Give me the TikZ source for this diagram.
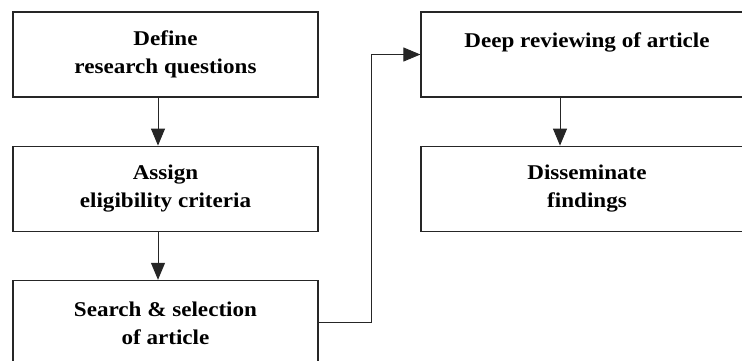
\documentclass[tikz,border=0pt]{standalone}
\usepackage{fontspec}
\setmainfont{Liberation Serif}[FakeStretch=1.1]
\usetikzlibrary{positioning,arrows.meta}

\tikzset{
  stepbox/.style={draw=black!85, line width=1.2pt, minimum height=85pt,
    align=center, inner sep=0pt, font=\fontsize{21}{28}\selectfont\bfseries},
  flow/.style={draw=black!85, line width=1pt, -{Triangle[length=17pt,width=14pt]}}
}

\begin{document}
\begin{tikzpicture}[x=1pt,y=-1pt]
\useasboundingbox (0,0) rectangle (742,360);
\node[stepbox, minimum width=305pt] (define) at (165.5,54.5) {Define\\research questions};
\node[stepbox, minimum width=305pt, below=48pt of define] (assign) {Assign\\eligibility criteria};
\node[stepbox, minimum width=305pt, below=48pt of assign] (search) {Search \& selection\\of article};
\node[stepbox, minimum width=332pt] (review) at (587,54.5) {Deep reviewing of article\\\mbox{}};
\node[stepbox, minimum width=332pt, below=48pt of review] (spread) {Disseminate\\findings};

\draw[flow] ([xshift=-7.5pt]define.south) -- ([xshift=-7.5pt]assign.north);
\draw[flow] ([xshift=-7.5pt]assign.south) -- ([xshift=-7.5pt]search.north);
\draw[flow] (search.east) -- ++(53,0) |- (review.west);
\draw[flow] ([xshift=-27pt]review.south) -- ([xshift=-27pt]spread.north);
\end{tikzpicture}
\end{document}
